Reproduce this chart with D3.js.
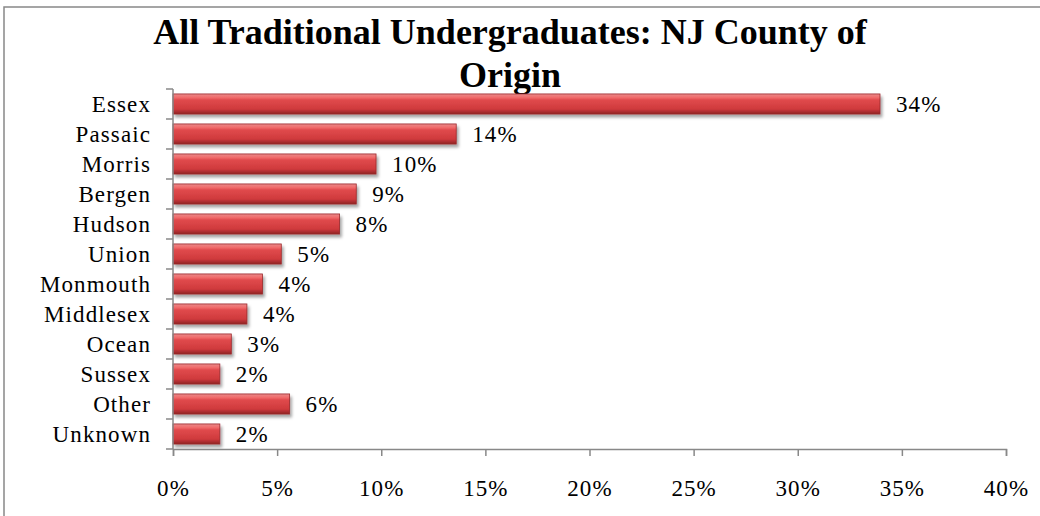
<!DOCTYPE html>
<html>
<head>
<meta charset="utf-8">
<script src="https://cdn.jsdelivr.net/npm/d3@7"></script>
<style>
  body { margin: 0; background: #fff; }
  svg text { font-family: "Garamond", "Liberation Serif", "DejaVu Serif", serif; }
</style>
</head>
<body>
<svg id="chart" width="1040" height="516"></svg>
<script>
var counties = ["Essex", "Passaic", "Morris", "Bergen", "Hudson", "Union", "Monmouth",
                "Middlesex", "Ocean", "Sussex", "Other", "Unknown"];
var shares = [33.95, 13.6, 9.75, 8.8, 8.0, 5.2, 4.3, 3.55, 2.8, 2.25, 5.6, 2.25];
var xTicks = [0, 5, 10, 15, 20, 25, 30, 35, 40];
var titleLines = ["All Traditional Undergraduates: NJ County of", "Origin"];

var svg = d3.select("#chart");

// outer frame of the chart area
svg.append("rect")
    .attr("x", 4).attr("y", 7)
    .attr("width", 1050).attr("height", 530)
    .attr("fill", "none").attr("stroke", "#888").attr("stroke-width", 1.5);

var defs = svg.append("defs");
var grad = defs.append("linearGradient")
    .attr("id", "barGrad").attr("x1", 0).attr("y1", 0).attr("x2", 0).attr("y2", 1);
grad.append("stop").attr("offset", "0%").attr("stop-color", "#e98a8a");
grad.append("stop").attr("offset", "18%").attr("stop-color", "#f06a6a");
grad.append("stop").attr("offset", "30%").attr("stop-color", "#e04a4c");
grad.append("stop").attr("offset", "75%").attr("stop-color", "#cf3a3c");
grad.append("stop").attr("offset", "100%").attr("stop-color", "#8e2224");

var shadow = defs.append("filter").attr("id", "shadow")
    .attr("x", "-5%").attr("y", "-20%").attr("width", "115%").attr("height", "160%");
shadow.append("feDropShadow")
    .attr("dx", 2).attr("dy", 3).attr("stdDeviation", 1.5)
    .attr("flood-color", "#000").attr("flood-opacity", 0.35);

var x = d3.scaleLinear().domain([0, 40]).range([173, 1006]);
var y = d3.scaleBand().domain(counties).range([89, 449]).paddingInner(0.33).paddingOuter(0.165);

var labelSize = 23, labelSpacing = 1.1;

// title
svg.append("g").selectAll("text").data(titleLines).enter()
    .append("text")
    .attr("x", 510)
    .attr("y", (d, i) => 44 + i * 43)
    .attr("text-anchor", "middle")
    .attr("font-size", 36)
    .attr("font-weight", "bold")
    .attr("fill", "#000")
    .text(d => d);

// bars
svg.append("g").selectAll("rect").data(counties).enter()
    .append("rect")
    .attr("x", x(0))
    .attr("y", d => y(d))
    .attr("width", (d, i) => x(shares[i]) - x(0))
    .attr("height", y.bandwidth())
    .attr("fill", "url(#barGrad)")
    .attr("stroke", "#9a2a2c")
    .attr("stroke-width", 0.8)
    .attr("filter", "url(#shadow)");

// value labels
svg.append("g").selectAll("text").data(counties).enter()
    .append("text")
    .attr("x", (d, i) => x(shares[i]) + 16)
    .attr("y", d => y(d) + y.bandwidth() / 2)
    .attr("dy", "0.35em")
    .attr("font-size", labelSize)
    .attr("letter-spacing", labelSpacing)
    .attr("fill", "#000")
    .text((d, i) => Math.round(shares[i]) + "%");

// x axis
var xAxis = svg.append("g")
    .attr("transform", "translate(0,449)")
    .call(d3.axisBottom(x).tickValues(xTicks).tickSize(7).tickPadding(24).tickFormat(d => d + "%"));
xAxis.select(".domain").attr("stroke", "#888").attr("stroke-width", 1.5);
xAxis.selectAll(".tick line").attr("stroke", "#888").attr("stroke-width", 1.5);
xAxis.selectAll("text").attr("font-size", labelSize).attr("letter-spacing", labelSpacing)
    .attr("fill", "#000")
    .attr("font-family", "Garamond, 'Liberation Serif', serif");

// y axis with boundary ticks
var yAxis = svg.append("g").attr("transform", "translate(173,0)");
yAxis.append("line")
    .attr("x1", 0).attr("x2", 0).attr("y1", 89).attr("y2", 449)
    .attr("stroke", "#888").attr("stroke-width", 1.5);
yAxis.selectAll("line.tk").data(d3.range(counties.length + 1)).enter()
    .append("line").attr("class", "tk")
    .attr("x1", -7).attr("x2", 0)
    .attr("y1", i => 89 + i * y.step())
    .attr("y2", i => 89 + i * y.step())
    .attr("stroke", "#888").attr("stroke-width", 1.5);
yAxis.selectAll("text").data(counties).enter()
    .append("text")
    .attr("x", -22)
    .attr("y", d => y(d) + y.bandwidth() / 2)
    .attr("dy", "0.35em")
    .attr("text-anchor", "end")
    .attr("font-size", labelSize)
    .attr("letter-spacing", labelSpacing)
    .attr("fill", "#000")
    .text(d => d);
</script>
</body>
</html>
